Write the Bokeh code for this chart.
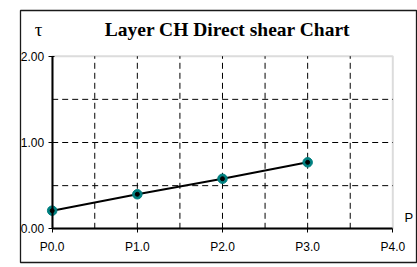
from bokeh.plotting import figure
from bokeh.models import (FixedTicker, PrintfTickFormatter, NumeralTickFormatter,
                          Range1d, Label, BoxAnnotation)
from bokeh.embed import file_html
from bokeh.resources import INLINE

# ---- data ----
x_vals = [0.0, 1.0, 2.0, 3.0]
tau_vals = [0.21, 0.40, 0.58, 0.77]
x_ticks = [0, 1, 2, 3, 4]
y_ticks = [0, 1, 2]
x_grid = [0.5, 1.0, 1.5, 2.0, 2.5, 3.0, 3.5]
y_grid = [0.5, 1.0, 1.5]
title_text = "Layer CH Direct shear Chart"
y_title = "τ"
x_title = "P"

W, H = 417, 267
p = figure(width=W, height=H, output_backend="svg", toolbar_location=None,
           x_range=Range1d(-0.372, 4.290), y_range=Range1d(-0.3905, 2.5296),
           min_border_left=20, min_border_right=0, min_border_top=10, min_border_bottom=5)
p.background_fill_color = "white"
p.border_fill_color = "white"
# outer chart border = frame outline
p.outline_line_color = "#1a1a1a"
p.outline_line_width = 1.3
p.xgrid.visible = False
p.ygrid.visible = False

for ax in (p.xaxis[0], p.yaxis[0]):
    ax.axis_line_color = "black"
    ax.axis_line_width = 2
    ax.major_tick_line_color = "black"
    ax.major_tick_line_width = 1
    ax.minor_tick_line_color = None
    ax.major_label_text_font = "Liberation Sans"
    ax.major_label_text_font_size = "12px"
    ax.major_label_text_color = "black"

p.xaxis.fixed_location = y_ticks[0]
p.xaxis.bounds = (x_ticks[0], x_ticks[-1])
p.xaxis.ticker = FixedTicker(ticks=x_ticks)
p.xaxis.formatter = PrintfTickFormatter(format="P%.1f")
p.xaxis.major_tick_in = 0
p.xaxis.major_tick_out = 4
p.xaxis.major_label_standoff = 7

p.yaxis.fixed_location = x_ticks[0]
p.yaxis.bounds = (y_ticks[0], y_ticks[-1])
p.yaxis.ticker = FixedTicker(ticks=y_ticks)
p.yaxis.formatter = NumeralTickFormatter(format="0.00")
p.yaxis.major_tick_in = 2
p.yaxis.major_tick_out = 4
p.yaxis.major_label_standoff = 4

# plot-area border (grey top/right)
p.add_layout(BoxAnnotation(left=x_ticks[0], right=x_ticks[-1], bottom=y_ticks[0], top=y_ticks[-1],
                           fill_color=None, line_color="#8c8c8c", line_width=2, level="underlay"))

# dashed grid
p.segment(x0=x_grid, x1=x_grid, y0=[y_ticks[0]] * len(x_grid), y1=[y_ticks[-1]] * len(x_grid),
          line_color="black", line_width=1, line_dash="6 4")
p.segment(x0=[x_ticks[0]] * len(y_grid), x1=[x_ticks[-1]] * len(y_grid), y0=y_grid, y1=y_grid,
          line_color="black", line_width=1, line_dash="6 4")

# series
p.line(x_vals, tau_vals, line_color="black", line_width=2)
p.scatter(x_vals, tau_vals, size=9.5, fill_color="#008080", line_color="#008080")
p.scatter(x_vals, tau_vals, size=4, fill_color="black", line_color="black")

p.add_layout(Label(x=2.059, y=2.315, text=title_text, text_color="black",
                   text_font="Liberation Serif", text_font_style="bold",
                   text_font_size="19.5px", text_align="center", text_baseline="alphabetic"))
p.add_layout(Label(x=-0.161, y=2.315, text=y_title, text_color="black",
                   text_font="Liberation Serif", text_font_size="19px",
                   text_align="center", text_baseline="alphabetic"))
p.add_layout(Label(x=4.137, y=0.134, text=x_title, text_color="black",
                   text_font="Liberation Sans", text_font_size="13px",
                   text_align="left", text_baseline="alphabetic"))

open("out.html", "w").write(file_html(p, INLINE))
